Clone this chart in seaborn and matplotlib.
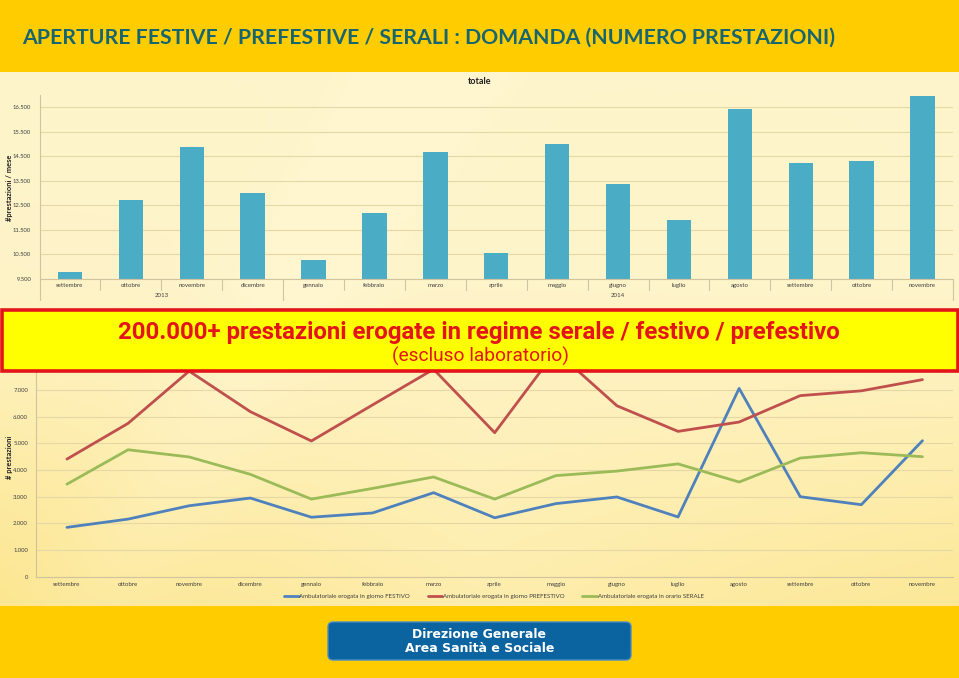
import numpy as np
import pandas as pd
import matplotlib
matplotlib.use("Agg")
import matplotlib.pyplot as plt
import seaborn as sns
from matplotlib import font_manager
from matplotlib.patches import Rectangle, FancyBboxPatch
from matplotlib.ticker import FuncFormatter

# ---------------- data ----------------
months = ["settembre", "ottobre", "novembre", "dicembre", "gennaio", "febbraio", "marzo",
          "aprile", "maggio", "giugno", "luglio", "agosto", "settembre", "ottobre", "novembre"]
years = ["2013"] * 4 + ["2014"] * 11
totale = [9770, 12700, 14860, 12990, 10250, 12170, 14670, 10540, 14990, 13350,
          11910, 16410, 14220, 14320, 16960]
festivo = [1850, 2160, 2660, 2950, 2230, 2390, 3150, 2210, 2740, 2990,
           2240, 7060, 3000, 2700, 5100]
prefestivo = [4410, 5750, 7710, 6190, 5090, 6440, 7780, 5400, 8460, 6410,
              5450, 5800, 6790, 6970, 7390]
serale = [3470, 4760, 4490, 3840, 2910, 3310, 3740, 2910, 3790, 3960,
          4230, 3550, 4450, 4650, 4500]
series_names = ["Ambulatoriale erogata in giorno FESTIVO",
                "Ambulatoriale erogata in giorno PREFESTIVO",
                "Ambulatoriale erogata in orario SERALE"]
year_labels = ["2013", "2014"]

title = "APERTURE FESTIVE / PREFESTIVE / SERALI : DOMANDA (NUMERO PRESTAZIONI)"
banner1 = "200.000+ prestazioni erogate in regime serale / festivo / prefestivo"
banner2 = "(escluso laboratorio)"
footer1 = "Direzione Generale"
footer2 = "Area Sanità e Sociale"

# ---------------- style ----------------
sns.set_theme(style="white")
avail = {f.name for f in font_manager.fontManager.ttflist}
def pick(*names):
    for n in names:
        if n in avail:
            return n
    return "DejaVu Sans"
small_font = pick("Lato", "Open Sans", "DejaVu Sans")
narrow_font = pick("Liberation Sans Narrow", "Roboto", "Liberation Sans")
plt.rcParams["font.family"] = [small_font, "DejaVu Sans"]

W, H = 959, 678
fig = plt.figure(figsize=(W / 100, H / 100), dpi=100)

def fx(px):
    return px / W

def fy(py):
    return 1 - py / H

# ---------------- background ----------------
bg = fig.add_axes([0, 0, 1, 1], zorder=0)
bg.axis("off")
bg.add_patch(Rectangle((0, 0), W, H, color="#FFCC00", zorder=0))
gx = np.linspace(0, 1, 300)
gy = np.linspace(0, 1, 200)
GX, GY = np.meshgrid(gx, gy)
edge = np.abs(GX - 0.5) * 2
f = np.clip(0.04 + 0.6 * np.clip((GY - 0.4) / 0.6, 0, 1) * (0.5 + 0.5 * edge)
            + 0.1 * (1 - GX) * GY, 0, 1)
streak = np.exp(-((GX - 0.45 + 0.35 * GY) / 0.08) ** 2)
f = np.clip(f - 0.12 * streak, 0, 1)
cream = np.array([1.0, 0.962, 0.81])
deep = np.array([0.985, 0.88, 0.47])
img = cream[None, None, :] * (1 - f[..., None]) + deep[None, None, :] * f[..., None]
bg.imshow(img, extent=(0, W, 606, 72), aspect="auto", interpolation="bilinear", zorder=2)
bg.set_xlim(0, W)
bg.set_ylim(H, 0)

grid_col = "#E6D8A6"
spine_col = "#CFC3A0"
text_col = "#404040"

# ---------------- top chart (totale) ----------------
ax1 = fig.add_axes([fx(39.5), fy(278.7), fx(953) - fx(39.5), (278.7 - 95) / H], zorder=2)
ax1.patch.set_alpha(0)
df1 = pd.DataFrame({"periodo": [f"{m} {y}" for m, y in zip(months, years)],
                    "totale": totale})
sns.barplot(data=df1, x="periodo", y="totale", color="#4BACC6", width=0.4,
            saturation=1, edgecolor="none", linewidth=0, ax=ax1)
ax1.set_xlim(-0.5, 14.5)
ax1.set_ylim(9500, 17000)
ax1.set_yticks(np.arange(9500, 17000, 1000))
fmt = FuncFormatter(lambda v, p: f"{int(round(v)):,}".replace(",", "."))
ax1.yaxis.set_major_formatter(fmt)
ax1.yaxis.grid(True, color=grid_col, lw=0.8)
ax1.set_axisbelow(True)
for s in ["top", "right"]:
    ax1.spines[s].set_visible(False)
for s in ["left", "bottom"]:
    ax1.spines[s].set_color(spine_col)
    ax1.spines[s].set_linewidth(0.8)
ax1.set_xticks(range(len(months)))
ax1.set_xticklabels(months, fontsize=4.4, color=text_col)
ax1.tick_params(axis="x", length=0, pad=3)
ax1.tick_params(axis="y", length=0, labelsize=4.2, labelcolor=text_col, pad=6)
ax1.set_xlabel("")
ax1.set_ylabel("")
xt = ax1.get_xaxis_transform()
for i in range(len(months) + 1):
    long = i in (0, 4, len(months))
    ax1.plot([i - 0.5, i - 0.5], [0, -0.118 if long else -0.062], transform=xt,
             clip_on=False, color=spine_col, lw=0.8)
ax1.text(1.5, -0.094, year_labels[0], transform=xt, ha="center", va="center",
         fontsize=4.4, color=text_col)
ax1.text(9.0, -0.094, year_labels[1], transform=xt, ha="center", va="center",
         fontsize=4.4, color=text_col)

# ---------------- bottom chart (lines) ----------------
ax2 = fig.add_axes([fx(36.4), fy(576.7), fx(953) - fx(36.4), 240 / H], zorder=2)
ax2.patch.set_alpha(0)
df2 = pd.DataFrame({
    "idx": list(range(len(months))) * 3,
    "valore": festivo + prefestivo + serale,
    "serie": [series_names[0]] * len(months) + [series_names[1]] * len(months)
             + [series_names[2]] * len(months),
})
sns.lineplot(data=df2, x="idx", y="valore", hue="serie",
             palette=["#4F81BD", "#C0504D", "#9BBB59"], linewidth=2.0,
             ax=ax2, sort=False)
ax2.set_xlim(-0.5, 14.5)
ax2.set_ylim(0, 9000)
ax2.set_yticks(np.arange(0, 9001, 1000))
ax2.yaxis.set_major_formatter(fmt)
ax2.yaxis.grid(True, color=grid_col, lw=0.8)
ax2.set_axisbelow(True)
for s in ["top", "right"]:
    ax2.spines[s].set_visible(False)
for s in ["left", "bottom"]:
    ax2.spines[s].set_color(spine_col)
    ax2.spines[s].set_linewidth(0.8)
ax2.set_xticks(range(len(months)))
ax2.set_xticklabels(months, fontsize=4.4, color=text_col)
ax2.set_xticks(np.arange(-0.5, len(months), 1), minor=True)
ax2.tick_params(axis="x", which="major", length=0, pad=4)
ax2.tick_params(axis="x", which="minor", length=3, color=spine_col, width=0.8)
ax2.tick_params(axis="y", length=0, labelsize=4.2, labelcolor=text_col, pad=6)
ax2.set_xlabel("")
ax2.set_ylabel("")
sns.move_legend(ax2, "center", bbox_to_anchor=(0.499, -0.082), ncol=3,
                frameon=False, title=None, fontsize=4.4, handlelength=2.4,
                columnspacing=2.9, handletextpad=0.1)
for t in ax2.get_legend().get_texts():
    t.set_color(text_col)

# ---------------- overlay texts ----------------
ov = fig.add_axes([0, 0, 1, 1], zorder=10)
ov.set_xlim(0, W)
ov.set_ylim(H, 0)
ov.axis("off")
ov.patch.set_alpha(0)

ov.text(22, 38, title, color="#17666F", fontsize=15.3, fontweight="bold",
        family=[small_font, "DejaVu Sans"], ha="left", va="center")
ov.text(479.5, 82, "totale", fontsize=6.5, fontweight="bold", color="#202020",
        ha="center", va="center")
ov.text(10, 188, "#prestazioni / mese", fontsize=5.4, fontweight="bold", color="#202020",
        rotation=90, ha="center", va="center")
ov.text(10, 457, "# prestazioni", fontsize=5.4, fontweight="bold", color="#202020",
        rotation=90, ha="center", va="center")

ov.add_patch(Rectangle((1.5, 309.5), 956, 61, facecolor="#FFFF00",
                       edgecolor="#E3151B", lw=2.6))
ov.text(479, 332, banner1, color="#E3151B", fontsize=17.3, fontweight="bold",
        family=[narrow_font, "DejaVu Sans"], ha="center", va="center")
ov.text(480, 356, banner2, color="#E3151B", fontsize=13.8,
        family=[narrow_font, "DejaVu Sans"], ha="center", va="center")

ov.add_patch(FancyBboxPatch((328, 622), 303, 38,
                            boxstyle="round,pad=0,rounding_size=5",
                            facecolor="#0B639F", edgecolor="#4A8CC4", lw=1))
ov.text(479.5, 634, footer1, color="white", fontsize=9, fontweight="bold",
        family=["DejaVu Sans"], ha="center", va="center")
ov.text(479.5, 649, footer2, color="white", fontsize=9, fontweight="bold",
        family=["DejaVu Sans"], ha="center", va="center")

fig.savefig("out.png", dpi=100)
